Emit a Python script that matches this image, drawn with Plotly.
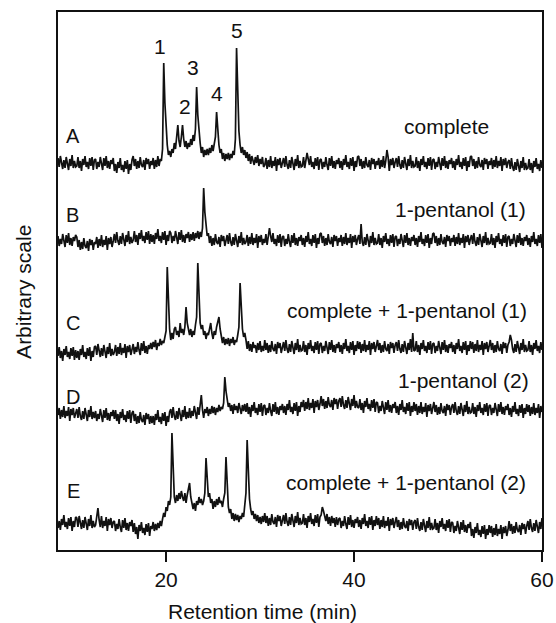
import numpy as np
import plotly.graph_objects as go

# Retention time grid (min): 8.5 ... 60.0 every 0.125 min (413 samples)
t_start, t_step, n_samples = 8.5, 0.125, 413
time = t_start + t_step * np.arange(n_samples)

# Detector signal (arbitrary units); one row = 2 min
sig_A = [
    5,-4,7,-2,-6,3,-5,6,-1,-7,4,-3,8,-5,2,-4,
    -3,6,-5,2,-8,4,-2,7,-4,1,-6,5,-3,6,-7,3,
    4,-6,1,-4,6,-2,-7,5,-3,7,-5,2,-6,3,-1,5,
    -8,-1,-10,1,-5,5,-7,-2,-9,2,-6,3,-11,-1,-7,3,
    7,-3,4,-6,2,-5,6,-2,-4,3,-7,5,-1,4,-6,2,
    -2,5,-6,3,-4,7,-3,4,2,14,100,60,30,18,8,12,
    6,14,10,20,14,24,38,22,16,26,38,24,16,22,14,20,
    16,24,18,28,22,34,76,48,30,20,10,16,6,13,8,14,
    8,15,10,18,12,20,26,51,32,18,10,14,4,10,2,9,
    4,10,3,9,5,12,8,24,115,70,32,18,10,16,8,13,
    5,11,2,9,-1,7,3,-2,6,0,8,-3,4,-1,6,-4,
    -2,5,-6,3,-4,7,-5,2,-3,6,-8,4,-2,5,-5,1,
    5,-4,7,-2,-6,3,-5,6,-1,-7,4,-3,8,-5,2,-4,
    -3,6,-5,2,10,4,-2,7,-4,1,-6,5,-3,6,-7,3,
    4,-6,1,-4,6,-2,-7,5,-3,7,-5,2,-6,3,-1,5,
    -5,2,-7,4,-2,8,-4,1,-6,5,-3,6,-8,2,-4,6,
    7,-3,4,-6,2,-5,6,-2,-4,3,-7,5,-1,4,-6,2,
    -2,5,-6,3,-4,7,-5,2,13,6,-8,4,-2,5,-5,1,
    5,-4,7,-2,-6,3,-5,6,-1,-7,4,-3,8,-5,2,-4,
    -3,6,-5,2,-8,4,-2,7,-4,1,-6,5,-3,6,-7,3,
    4,-6,1,-4,6,-2,-7,5,-3,7,-5,2,-6,3,-1,5,
    -5,2,-7,4,-2,8,-4,1,-6,5,-3,6,-8,2,-4,6,
    7,-3,4,-6,2,-5,6,-2,-4,3,-7,5,-1,4,-6,2,
    -2,5,-6,3,-4,7,-5,2,-3,6,-8,4,-2,5,-5,1,
    3,-6,5,-4,-8,1,-7,4,-3,-9,2,-5,6,-7,0,-6,
    -5,4,-7,0,-10,2,-4,5,-6,-1,-8,3,-5,
]
sig_B = [
    4,-6,1,-4,6,-2,-7,5,-3,7,-5,2,-6,3,-1,5,
    3,-7,0,-10,-2,-9,2,-6,-8,-1,-11,1,-5,0,-10,-2,
    -4,3,-8,1,-6,5,-7,0,-5,4,-10,2,-4,3,-7,-1,
    6,-3,8,-1,-5,4,-4,7,0,-6,5,-2,9,-4,3,-3,
    0,9,-2,5,-5,7,1,10,-1,4,-3,8,0,9,-4,6,
    -2,5,-4,7,1,11,-1,4,-3,8,0,9,-5,5,-1,9,
    7,-3,4,-1,9,1,-4,8,0,10,-2,5,-3,6,2,8,
    -2,6,0,8,-1,7,2,9,1,8,3,12,52,28,12,4,
    7,-3,4,-6,2,-5,6,-2,-4,3,-7,5,-1,4,-6,2,
    5,-4,7,-2,-6,3,-5,6,-1,-7,4,-3,8,-5,2,-4,
    -2,5,-6,3,-4,7,-5,2,-3,6,-8,4,-2,5,-5,1,
    -3,6,-5,2,12,4,-2,7,-4,1,-6,5,-3,6,-7,3,
    4,-6,1,-4,6,-2,-7,5,-3,7,-5,2,-6,3,-1,5,
    -5,2,-7,4,-2,8,-4,1,-6,5,-3,6,-8,2,-4,6,
    7,-3,4,-6,2,-5,6,-2,-4,3,-7,5,-1,4,-6,2,
    -2,5,-6,3,-4,7,-5,2,-3,6,-8,4,-2,5,-5,1,
    5,-4,16,-2,-6,3,-5,6,-1,-7,4,-3,8,-5,2,-4,
    -3,6,-5,2,-8,4,-2,7,-4,1,-6,5,-3,6,-7,3,
    4,-6,1,-4,6,-2,-7,5,-3,7,-5,2,-6,3,-1,5,
    -5,2,-7,4,-2,8,-4,1,-6,5,-3,6,-8,2,-4,6,
    7,-3,4,-6,2,-5,6,-2,-4,3,-7,5,-1,4,-6,2,
    -2,5,-6,3,-4,7,-5,2,-3,6,-8,4,-2,5,-5,1,
    5,-4,7,-2,-6,3,-5,6,-1,-7,4,-3,8,-5,2,-4,
    -3,6,-5,2,-8,4,-2,7,-4,1,-6,5,-3,6,-7,3,
    4,-6,1,-4,6,-2,-7,5,-3,7,-5,2,-6,3,-1,5,
    -5,2,-7,4,-2,8,-4,1,-6,5,-3,6,-8,
]
sig_C = [
    -3,6,-5,2,-8,4,-2,7,-4,1,-6,5,-3,6,-7,3,
    -5,2,-7,4,-2,8,-4,1,-6,5,-3,6,-8,2,-4,6,
    7,-2,9,0,-4,5,-3,8,1,-5,6,-1,10,-3,4,-2,
    1,8,-3,6,-1,10,-2,5,0,9,-5,7,1,8,-2,4,
    9,-1,6,1,11,3,-2,10,2,12,0,7,-1,8,4,10,
    4,11,6,13,3,10,7,14,8,12,10,16,22,86,48,24,
    13,20,14,24,26,18,22,16,30,20,24,18,26,46,30,22,
    18,24,16,22,18,28,36,90,52,30,24,28,18,22,14,20,
    18,26,30,20,14,22,18,26,30,36,24,16,10,16,8,14,
    9,15,7,14,10,16,8,13,11,18,26,70,40,24,16,20,
    13,4,12,2,9,1,11,5,8,0,10,3,12,1,7,2,
    13,3,10,0,8,1,12,4,2,9,-1,11,5,10,0,8,
    11,2,13,4,0,9,1,12,5,-1,10,3,14,1,8,2,
    3,12,1,8,-2,10,4,13,2,7,0,11,3,12,-1,9,
    10,0,7,2,12,4,-1,11,3,13,1,8,0,9,5,11,
    1,8,-1,10,4,14,2,7,0,11,3,12,-2,8,2,12,
    4,11,0,9,2,13,1,8,3,12,-2,10,4,11,1,7,
    13,3,10,0,8,1,12,4,2,9,-1,11,5,10,0,8,
    11,2,13,4,0,9,1,12,5,-1,10,3,14,1,20,2,
    3,12,1,8,-2,10,4,13,2,7,0,11,3,12,-1,9,
    10,0,7,2,12,4,-1,11,3,13,1,8,0,9,5,11,
    1,8,-1,10,4,14,2,7,0,11,3,12,-2,8,2,12,
    4,11,0,9,2,13,1,8,3,12,-2,10,4,11,1,7,
    13,3,10,0,8,1,12,4,2,9,-1,11,5,10,0,8,
    11,18,13,4,0,9,1,12,5,-1,10,3,14,1,8,2,
    3,12,1,8,-2,10,4,13,2,7,0,11,3,
]
sig_D = [
    -2,5,-6,3,-4,7,-5,2,-3,6,-8,4,-2,5,-5,1,
    4,-5,6,-3,-7,2,-6,5,-2,-8,3,-4,7,-6,1,-5,
    2,-8,-1,-6,4,-4,-9,3,-5,5,-7,0,-8,1,-3,3,
    -6,3,-8,-1,-11,1,-5,4,-7,-2,-9,2,-6,3,-10,0,
    2,-8,-1,-11,-3,-10,1,-7,-9,-2,-12,0,-6,-1,-11,-3,
    -10,-3,-12,-1,-7,3,-9,-4,-11,0,-8,1,-13,-3,-9,1,
    4,-5,6,-3,-7,2,-6,5,-2,-8,3,-4,7,-6,1,-5,
    5,-5,2,-3,7,-1,-6,6,-2,8,18,3,-5,4,0,6,
    -3,4,-1,7,0,6,-2,5,1,8,2,6,4,10,36,22,
    12,6,10,2,8,-1,9,3,7,0,10,4,-1,8,2,9,
    1,10,-1,6,-4,8,2,11,0,5,-2,9,1,10,-3,7,
    8,-2,5,0,10,2,-3,9,1,11,-1,6,-2,7,3,9,
    0,7,-2,9,3,13,1,6,-1,10,2,11,-3,7,1,11,
    6,13,2,11,4,15,3,10,5,14,0,12,6,13,3,9,
    17,7,14,4,12,5,16,8,6,13,3,15,9,14,4,12,
    15,6,17,8,4,13,5,16,9,3,14,7,18,5,12,6,
    5,14,3,10,0,12,6,15,4,9,2,13,5,14,1,11,
    10,0,7,2,12,4,-1,11,3,13,1,8,0,9,5,11,
    0,7,-2,9,3,13,1,6,-1,10,2,11,-3,7,1,11,
    2,9,-2,7,0,11,-1,6,1,10,-4,8,2,9,-1,5,
    11,1,8,-2,6,-1,10,2,0,7,-3,9,3,8,-2,6,
    9,0,11,2,-2,7,-1,10,3,-3,8,1,12,-1,6,0,
    1,10,-1,6,-4,8,2,11,0,5,-2,9,1,10,-3,7,
    8,-2,5,0,10,2,-3,9,1,11,-1,6,-2,7,3,9,
    -2,5,-4,7,1,11,-1,4,-3,8,0,9,-5,5,-1,9,
    1,8,-3,6,-1,10,-2,5,0,9,-5,7,1,
]
sig_E = [
    -5,2,-7,4,-2,8,-4,1,-6,5,-3,6,-8,2,-4,6,
    5,-4,7,-2,-6,3,-5,6,-1,-7,4,-3,8,-5,2,-4,
    -2,5,15,3,-4,7,-5,2,-3,6,-8,4,-2,5,-5,1,
    2,-8,-1,-6,4,-4,-9,3,-5,5,-7,0,-8,1,-3,3,
    -9,0,-11,-4,-16,-2,-8,1,-10,-5,-12,-1,-9,0,-13,-3,
    -6,1,-8,-1,-7,0,-5,2,-3,4,10,6,16,12,22,18,
    26,90,50,26,20,28,22,30,24,32,26,22,30,20,28,34,
    40,26,18,14,20,12,22,18,26,20,24,18,22,30,65,40,
    26,30,20,24,14,22,16,24,18,26,20,22,16,24,30,66,
    36,16,10,14,4,10,2,9,3,8,1,7,4,10,6,16,
    30,83,50,24,14,8,12,4,9,2,8,0,6,-1,7,1,
    10,0,7,-3,5,-2,9,1,-1,6,-4,8,2,7,-3,5,
    8,-1,10,1,-3,6,-2,9,2,-4,7,0,11,-2,5,-1,
    0,9,-2,5,-5,7,1,10,-1,4,-3,8,0,9,-4,6,
    8,16,12,7,2,9,-1,6,-3,7,0,5,-4,6,-2,4,
    5,-5,2,-3,7,-1,-6,6,-2,8,-4,3,-5,4,0,6,
    -4,3,-6,5,-1,9,-3,2,-5,6,-2,7,-7,3,-3,7,
    -2,5,-6,3,-4,7,-5,2,-3,6,-8,4,-2,5,-5,1,
    6,-4,3,-7,1,-6,5,-3,-5,2,-8,4,-2,3,-7,1,
    3,-6,5,-4,-8,1,-7,4,-3,-9,2,-5,6,-7,0,-6,
    -5,4,-7,0,-10,2,-4,5,-6,-1,-8,3,-5,4,-9,1,
    0,-10,-3,-8,2,-6,-11,1,-7,3,-9,-2,-10,-1,-5,1,
    -13,-6,-15,-4,-10,0,-12,-7,-14,-3,-11,-2,-16,-6,-12,-2,
    -10,-3,-14,-5,-12,-1,-13,-6,-11,-2,-16,-4,-10,-3,-13,-7,
    2,-8,-1,-11,-3,-10,1,-7,-9,-2,-12,0,-6,-1,-11,-3,
    2,-7,4,-5,-9,0,-8,3,-4,-10,1,-6,5,
]

trace_letters = ["A", "B", "C", "D", "E"]
trace_names = ["complete", "1-pentanol (1)", "complete + 1-pentanol (1)",
               "1-pentanol (2)", "complete + 1-pentanol (2)"]
trace_offsets = [387, 310, 197, 137, 27]   # vertical stacking (arbitrary units)
signals = [sig_A, sig_B, sig_C, sig_D, sig_E]

peak_numbers = ["1", "2", "3", "4", "5"]
x_ticks = [20, 40, 60]

FONT = "Liberation Sans, Arial, Helvetica, sans-serif"
INK = "#111111"

fig = go.Figure()
for sig, off, name in zip(signals, trace_offsets, trace_names):
    y = np.asarray(sig, dtype=float)[:n_samples] + off
    fig.add_trace(go.Scatter(x=time[:len(y)], y=y, mode="lines", name=name,
                             line=dict(color=INK, width=1.7), showlegend=False,
                             hoverinfo="skip"))

# Letter labels at left
letter_pos = [(10.1, 414), (10.0, 335), (10.1, 227), (10.1, 153), (10.1, 59)]
for txt, (lx, ly) in zip(trace_letters, letter_pos):
    fig.add_annotation(x=lx, y=ly, text=txt, showarrow=False,
                       font=dict(family=FONT, size=20, color=INK),
                       xanchor="center", yanchor="middle")

# Trace descriptions at right
name_pos = [(49.8, 424), (51.3, 341), (45.6, 240), (51.6, 170), (45.5, 68)]
for txt, (lx, ly) in zip(trace_names, name_pos):
    fig.add_annotation(x=lx, y=ly, text=txt, showarrow=False,
                       font=dict(family=FONT, size=21, color=INK),
                       xanchor="center", yanchor="middle")

# Peak numbers
peak_pos = [(19.35, 504), (22.0, 444), (22.87, 483), (25.42, 457), (27.55, 520)]
for txt, (lx, ly) in zip(peak_numbers, peak_pos):
    fig.add_annotation(x=lx, y=ly, text=txt, showarrow=False,
                       font=dict(family=FONT, size=21, color=INK),
                       xanchor="center", yanchor="middle")

# Axis titles
fig.add_annotation(xref="paper", yref="paper", x=0.4215, y=-0.115,
                   text="Retention time (min)", showarrow=False,
                   font=dict(family=FONT, size=21, color=INK),
                   xanchor="center", yanchor="middle")
fig.add_annotation(xref="paper", yref="paper", x=-0.070, y=0.48,
                   text="Arbitrary scale", showarrow=False, textangle=-90,
                   font=dict(family=FONT, size=21, color=INK),
                   xanchor="center", yanchor="middle")

fig.update_xaxes(range=[8.5, 60], tickvals=x_ticks, ticks="outside", ticklen=10,
                 tickwidth=1.5, tickcolor=INK, showgrid=False, zeroline=False,
                 showline=True, linecolor=INK, linewidth=1.5, mirror=True,
                 automargin=False,
                 tickfont=dict(family=FONT, size=21, color=INK))
fig.update_yaxes(range=[0, 538], showticklabels=False, ticks="", showgrid=False,
                 zeroline=False, showline=True, linecolor=INK, linewidth=1.5,
                 mirror=True, automargin=False)

fig.update_layout(width=556, height=623, margin=dict(l=58, r=14, t=12, b=73),
                  paper_bgcolor="white", plot_bgcolor="white",
                  font=dict(family=FONT, color=INK))

fig.write_html("out.html")
